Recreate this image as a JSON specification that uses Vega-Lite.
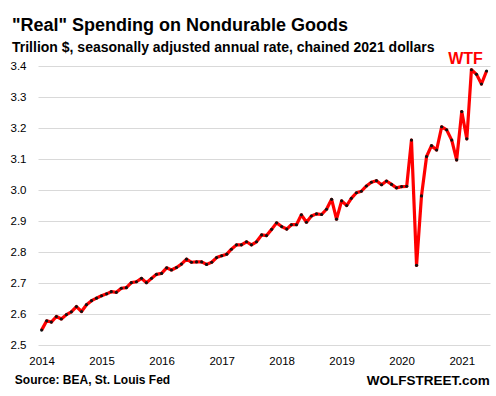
{
  "$schema": "https://vega.github.io/schema/vega-lite/v6.json",
  "width": 452,
  "height": 279,
  "autosize": {"type": "none"},
  "padding": {"left": 38, "top": 66, "right": 6, "bottom": 51},
  "title": {
    "text": "\"Real\" Spending on Nondurable Goods",
    "subtitle": "Trillion $, seasonally adjusted annual rate, chained 2021 dollars",
    "anchor": "start",
    "frame": "group",
    "dx": -26,
    "dy": 5,
    "offset": 1,
    "font": "Liberation Sans",
    "fontSize": 18,
    "fontWeight": "bold",
    "color": "#000000",
    "subtitleFont": "Liberation Sans",
    "subtitleFontSize": 14,
    "subtitleFontWeight": "bold",
    "subtitleColor": "#000000",
    "subtitlePadding": 6
  },
  "config": {"view": {"stroke": null}},
  "datasets": {
    "series": [
      {"date": "2014-01-01", "value": 2.548},
      {"date": "2014-02-01", "value": 2.578},
      {"date": "2014-03-01", "value": 2.574},
      {"date": "2014-04-01", "value": 2.592},
      {"date": "2014-05-01", "value": 2.584},
      {"date": "2014-06-01", "value": 2.598},
      {"date": "2014-07-01", "value": 2.607},
      {"date": "2014-08-01", "value": 2.624},
      {"date": "2014-09-01", "value": 2.608},
      {"date": "2014-10-01", "value": 2.630},
      {"date": "2014-11-01", "value": 2.643},
      {"date": "2014-12-01", "value": 2.651},
      {"date": "2015-01-01", "value": 2.659},
      {"date": "2015-02-01", "value": 2.665},
      {"date": "2015-03-01", "value": 2.672},
      {"date": "2015-04-01", "value": 2.670},
      {"date": "2015-05-01", "value": 2.683},
      {"date": "2015-06-01", "value": 2.685},
      {"date": "2015-07-01", "value": 2.701},
      {"date": "2015-08-01", "value": 2.704},
      {"date": "2015-09-01", "value": 2.715},
      {"date": "2015-10-01", "value": 2.701},
      {"date": "2015-11-01", "value": 2.715},
      {"date": "2015-12-01", "value": 2.728},
      {"date": "2016-01-01", "value": 2.731},
      {"date": "2016-02-01", "value": 2.749},
      {"date": "2016-03-01", "value": 2.742},
      {"date": "2016-04-01", "value": 2.750},
      {"date": "2016-05-01", "value": 2.761},
      {"date": "2016-06-01", "value": 2.777},
      {"date": "2016-07-01", "value": 2.767},
      {"date": "2016-08-01", "value": 2.768},
      {"date": "2016-09-01", "value": 2.768},
      {"date": "2016-10-01", "value": 2.760},
      {"date": "2016-11-01", "value": 2.767},
      {"date": "2016-12-01", "value": 2.782},
      {"date": "2017-01-01", "value": 2.788},
      {"date": "2017-02-01", "value": 2.793},
      {"date": "2017-03-01", "value": 2.809},
      {"date": "2017-04-01", "value": 2.823},
      {"date": "2017-05-01", "value": 2.823},
      {"date": "2017-06-01", "value": 2.833},
      {"date": "2017-07-01", "value": 2.823},
      {"date": "2017-08-01", "value": 2.833},
      {"date": "2017-09-01", "value": 2.855},
      {"date": "2017-10-01", "value": 2.853},
      {"date": "2017-11-01", "value": 2.873},
      {"date": "2017-12-01", "value": 2.894},
      {"date": "2018-01-01", "value": 2.882},
      {"date": "2018-02-01", "value": 2.874},
      {"date": "2018-03-01", "value": 2.888},
      {"date": "2018-04-01", "value": 2.888},
      {"date": "2018-05-01", "value": 2.920},
      {"date": "2018-06-01", "value": 2.896},
      {"date": "2018-07-01", "value": 2.916},
      {"date": "2018-08-01", "value": 2.923},
      {"date": "2018-09-01", "value": 2.921},
      {"date": "2018-10-01", "value": 2.938},
      {"date": "2018-11-01", "value": 2.970},
      {"date": "2018-12-01", "value": 2.906},
      {"date": "2019-01-01", "value": 2.965},
      {"date": "2019-02-01", "value": 2.950},
      {"date": "2019-03-01", "value": 2.973},
      {"date": "2019-04-01", "value": 2.991},
      {"date": "2019-05-01", "value": 2.996},
      {"date": "2019-06-01", "value": 3.013},
      {"date": "2019-07-01", "value": 3.025},
      {"date": "2019-08-01", "value": 3.030},
      {"date": "2019-09-01", "value": 3.017},
      {"date": "2019-10-01", "value": 3.029},
      {"date": "2019-11-01", "value": 3.018},
      {"date": "2019-12-01", "value": 3.007},
      {"date": "2020-01-01", "value": 3.011},
      {"date": "2020-02-01", "value": 3.012},
      {"date": "2020-03-01", "value": 3.161},
      {"date": "2020-04-01", "value": 2.757},
      {"date": "2020-05-01", "value": 2.981},
      {"date": "2020-06-01", "value": 3.108},
      {"date": "2020-07-01", "value": 3.143},
      {"date": "2020-08-01", "value": 3.129},
      {"date": "2020-09-01", "value": 3.204},
      {"date": "2020-10-01", "value": 3.194},
      {"date": "2020-11-01", "value": 3.161},
      {"date": "2020-12-01", "value": 3.097},
      {"date": "2021-01-01", "value": 3.253},
      {"date": "2021-02-01", "value": 3.165},
      {"date": "2021-03-01", "value": 3.388},
      {"date": "2021-04-01", "value": 3.373},
      {"date": "2021-05-01", "value": 3.342},
      {"date": "2021-06-01", "value": 3.384}
    ],
    "notes": [
      {"date": "2021-01-24", "value": 3.408, "label": "WTF", "kind": "wtf"},
      {"date": "2013-07-22", "value": 2.374, "label": "Source: BEA, St. Louis Fed", "kind": "source"},
      {"date": "2021-06-20", "value": 2.371, "label": "WOLFSTREET.com", "kind": "brand"}
    ]
  },
  "encoding": {
    "x": {
      "field": "date",
      "type": "temporal",
      "scale": {"domain": ["2013-12-10", "2021-06-22"], "nice": false},
      "axis": {
        "title": null,
        "format": "%Y",
        "tickCount": {"interval": "year", "step": 1},
        "grid": false,
        "ticks": false,
        "domain": false,
        "labelFont": "Liberation Sans",
        "labelFontSize": 11.5,
        "labelColor": "#000000",
        "labelPadding": 10,
        "labelAlign": "center",
        "labelFlush": false
      }
    },
    "y": {
      "field": "value",
      "type": "quantitative",
      "scale": {"domain": [2.5, 3.4], "nice": false, "zero": false},
      "axis": {
        "title": null,
        "values": [2.5, 2.6, 2.7, 2.8, 2.9, 3.0, 3.1, 3.2, 3.3, 3.4],
        "format": ".1f",
        "grid": true,
        "gridColor": "#d9d9d9",
        "gridWidth": 1,
        "ticks": false,
        "domain": false,
        "labelFont": "Liberation Sans",
        "labelFontSize": 11.5,
        "labelColor": "#000000",
        "labelPadding": 12,
        "labelOverlap": false
      }
    }
  },
  "layer": [
    {
      "data": {"name": "series"},
      "mark": {"type": "line", "color": "#ff0000", "strokeWidth": 3.2, "strokeJoin": "round"}
    },
    {
      "data": {"name": "series"},
      "mark": {"type": "circle", "color": "#111111", "size": 10, "opacity": 1}
    },
    {
      "data": {"name": "notes"},
      "transform": [{"filter": "datum.kind === 'wtf'"}],
      "mark": {"type": "text", "color": "#ff0000", "font": "Liberation Sans", "fontSize": 16, "fontWeight": "bold", "align": "center", "baseline": "alphabetic"},
      "encoding": {"text": {"field": "label"}}
    },
    {
      "data": {"name": "notes"},
      "transform": [{"filter": "datum.kind === 'source'"}],
      "mark": {"type": "text", "color": "#000000", "font": "Liberation Sans", "fontSize": 12, "fontWeight": "bold", "align": "left", "baseline": "alphabetic"},
      "encoding": {"text": {"field": "label"}}
    },
    {
      "data": {"name": "notes"},
      "transform": [{"filter": "datum.kind === 'brand'"}],
      "mark": {"type": "text", "color": "#000000", "font": "Liberation Sans", "fontSize": 13.5, "fontWeight": "bold", "align": "right", "baseline": "alphabetic"},
      "encoding": {"text": {"field": "label"}}
    }
  ]
}
